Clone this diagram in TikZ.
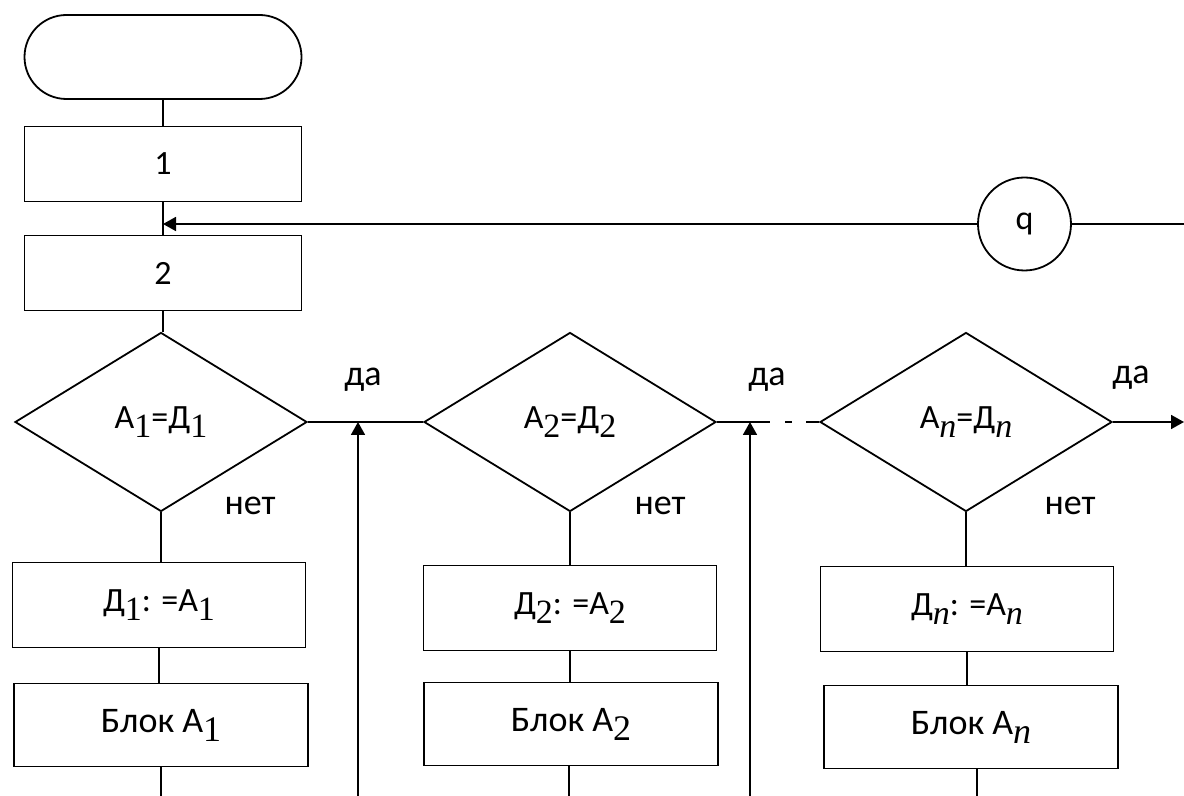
\documentclass[tikz,border=0pt]{standalone}
\usepackage{fontspec}
\setmainfont{Carlito}
\newfontfamily\subfont{Liberation Serif}
\usetikzlibrary{arrows.meta,shapes.geometric}
\newcommand{\ix}[1]{\raisebox{-0.25em}{\subfont #1}}

\begin{document}
\begin{tikzpicture}[
    x=0.5pt, y=-0.5pt,
    line width=0.9pt,
    >={Triangle[length=6.5pt,width=7pt]},
    term/.style={draw, rectangle, rounded corners=21pt, minimum width=138.5pt, minimum height=42pt},
    numbox/.style={draw, rectangle, inner sep=0pt, minimum width=138.5pt, minimum height=37.5pt, font=\fontsize{17}{20}\selectfont},
    cond/.style={draw, diamond, inner sep=0pt, minimum width=146pt, minimum height=89.5pt, font=\fontsize{17}{20}\selectfont},
    asgbox/.style={draw, rectangle, inner sep=0pt, minimum width=146.5pt, minimum height=42.5pt, font=\fontsize{17}{20}\selectfont},
    blkbox/.style={draw, rectangle, inner sep=0pt, minimum width=147pt, minimum height=41.5pt, font=\fontsize{18}{22}\selectfont},
    conn/.style={draw, circle, inner sep=0pt, minimum size=46.5pt, font=\fontsize{17}{20}\selectfont},
    lab/.style={inner sep=0pt, font=\fontsize{18}{22}\selectfont}
]
\useasboundingbox (0,0) rectangle (1184,796);

\node[term] (start) at (163,57) {};
\node[numbox] (b1) at (163,164) {1};
\node[numbox] (b2) at (163,273) {2};

\node[cond] (c1) at (161,422) {А\ix{1}=Д\ix{1}};
\node[cond] (c2) at (570,422) {А\ix{2}=Д\ix{2}};
\node[cond] (c3) at (966,422) {А\ix{\itshape n}=Д\ix{\itshape n}};

\node[asgbox] (s1) at (159,605) {Д\ix{1}: =А\ix{1}};
\node[asgbox] (s2) at (570,608) {Д\ix{2}: =А\ix{2}};
\node[asgbox] (s3) at (967,609) {Д\ix{\itshape n}: =А\ix{\itshape n}};

\node[blkbox] (k1) at (161,725) {Блок А\ix{1}};
\node[blkbox] (k2) at (571,724) {Блок А\ix{2}};
\node[blkbox] (k3) at (971,727) {Блок А\ix{\itshape n}};

\node[conn] (q) at (1024.5,224) {q};

\node[lab] (y1) at (363,380) {да};
\node[lab] (y2) at (767,380) {да};
\node[lab] (y3) at (1131,378) {да};
\node[lab] (n1) at (250,506) {нет};
\node[lab] (n2) at (660,506) {нет};
\node[lab] (n3) at (1070,506) {нет};

\coordinate (m) at (163,224);
\coordinate (qin) at (1184,224);
\coordinate (out) at (1184,422);
\coordinate (j1) at (358,422);
\coordinate (j2) at (750,422);
\coordinate (u1) at (358,796);
\coordinate (u2) at (750,796);
\coordinate (g1) at (770,422);
\coordinate (g2) at (785,422);
\coordinate (g3) at (792,422);
\coordinate (g4) at (806,422);
\coordinate (e1) at (161,796);
\coordinate (e2) at (569,796);
\coordinate (e3) at (977,796);

\draw (start) -- (b1);
\draw (b1) -- (b2);
\draw (b2.south) -- (b2.south |- c1.north);
\draw (c1.south) -- (c1.south |- s1.north);
\draw (c2.south) -- (c2.south |- s2.north);
\draw (c3.south) -- (c3.south |- s3.north);
\draw (s1.south) -- (s1.south |- k1.north);
\draw (s2.south) -- (s2.south |- k2.north);
\draw (s3.south) -- (s3.south |- k3.north);
\draw (k1.south -| e1) -- (e1);
\draw (k2.south -| e2) -- (e2);
\draw (k3.south -| e3) -- (e3);

\draw (c1.east) -- (c2.west);
\draw (c2.east) -- (g1);
\draw (g2) -- (g3);
\draw (g4) -- (c3.west);
\draw[->] (c3.east) -- (out);
\draw[->] (u1) -- (j1);
\draw[->] (u2) -- (j2);

\draw (qin) -- (q);
\draw[->] (q) -- (m);
\end{tikzpicture}
\end{document}
